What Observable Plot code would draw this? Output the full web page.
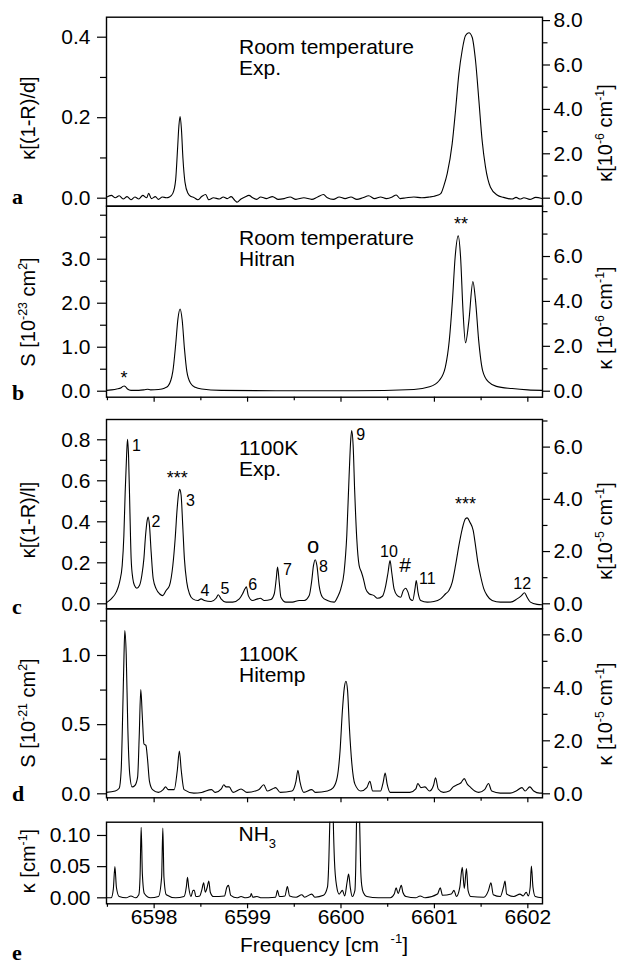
<!DOCTYPE html>
<html><head><meta charset="utf-8">
<script src="https://cdn.jsdelivr.net/npm/d3@7"></script>
<script src="https://cdn.jsdelivr.net/npm/@observablehq/plot@0.6"></script>
<style>
body{margin:0;background:#fff;}
#chart{position:relative;width:617px;height:964px;background:#fff;}
#chart svg{position:absolute;left:0;top:0;}
</style></head><body><div id="chart"></div>
<script>
// ---------- data (frequency in cm^-1, value in left-axis units) ----------
const xDomain = [6597.49, 6602.157];
const xMajor = [6598, 6599, 6600, 6601, 6602];
const xMinor = [6597.5, 6598.5, 6599.5, 6600.5, 6601.5];

const aSpectrum = [[6597.487,0.002],[6597.542,0.007],[6597.584,0.001],[6597.626,0.006],[6597.668,-0.002],[6597.710,0.004],[6597.752,-0.004],[6597.794,0.003],[6597.836,-0.002],[6597.878,0.007],[6597.920,0.001],[6597.941,0.012],[6597.971,-0.001],[6598.013,0.004],[6598.046,-0.003],[6598.088,0.003],[6598.130,0.001],
[6598.164,0.003],[6598.200,0.012],[6598.230,0.045],[6598.250,0.120],[6598.265,0.180],[6598.278,0.203],[6598.292,0.172],[6598.308,0.100],[6598.330,0.040],[6598.362,0.012],[6598.395,0.004],
[6598.425,0.002],[6598.467,-0.004],[6598.509,0.004],[6598.551,0.009],[6598.585,-0.004],[6598.635,0.001],[6598.698,-0.002],[6598.740,0.003],[6598.782,-0.001],[6598.824,0.004],[6598.866,-0.006],[6598.887,-0.010],[6598.930,-0.002],[6598.972,0.003],[6599.014,0.007],[6599.056,0.001],[6599.098,-0.003],[6599.140,0.003],[6599.203,-0.001],[6599.266,0.004],[6599.329,-0.003],[6599.392,-0.001],[6599.455,0.003],[6599.518,-0.003],[6599.603,0.001],[6599.687,-0.003],[6599.750,0.003],[6599.813,0.009],[6599.855,0.001],[6599.918,-0.003],[6599.981,0.003],[6600.044,-0.001],[6600.107,0.003],[6600.170,-0.003],[6600.233,0.001],[6600.297,0.006],[6600.360,-0.001],[6600.423,0.003],[6600.486,-0.001],[6600.549,0.003],[6600.591,0.008],[6600.633,-0.001],[6600.696,0.001],[6600.780,0.003],[6600.864,0.001],[6600.948,0.003],[6601.000,0.005],[6601.040,0.008],[6601.070,0.012],[6601.100,0.030],[6601.137,0.061],[6601.190,0.135],[6601.226,0.218],[6601.262,0.309],[6601.297,0.367],[6601.333,0.404],[6601.369,0.411],[6601.404,0.400],[6601.440,0.342],[6601.476,0.243],[6601.511,0.143],[6601.547,0.077],[6601.600,0.027],[6601.671,0.008],[6601.740,0.002],[6601.790,-0.001],[6601.832,-0.002],[6601.874,0.002],[6601.916,-0.002],[6601.958,0.001],[6602.021,-0.003],[6602.084,0.002],[6602.156,-0.001]];

const bSpectrum = [[6597.490,0.02],[6597.540,0.03],[6597.600,0.05],[6597.647,0.08],[6597.665,0.11],[6597.680,0.12],[6597.695,0.10],[6597.715,0.05],[6597.752,0.02],[6597.836,0.02],[6597.900,0.035],[6597.930,0.045],[6597.962,0.03],[6598.046,0.04],[6598.110,0.07],[6598.150,0.12],[6598.200,0.45],[6598.230,1.05],[6598.255,1.65],[6598.278,1.87],[6598.300,1.62],[6598.325,0.95],[6598.350,0.45],[6598.390,0.18],[6598.440,0.09],[6598.509,0.05],[6598.719,0.02],[6599.308,0.01],[6600.149,0.01],[6600.780,0.04],[6600.948,0.10],[6601.054,0.25],[6601.117,0.55],[6601.159,1.15],[6601.193,2.06],[6601.222,3.05],[6601.255,3.53],[6601.280,3.05],[6601.306,1.83],[6601.333,1.10],[6601.369,1.60],[6601.412,2.49],[6601.440,2.06],[6601.474,1.15],[6601.516,0.47],[6601.579,0.21],[6601.664,0.11],[6601.832,0.06],[6602.000,0.03],[6602.156,0.02]];

const cSpectrum = [[6597.498,0.008],[6597.541,0.024],[6597.594,0.057],[6597.630,0.106],[6597.658,0.187],[6597.676,0.333],[6597.690,0.545],[6597.705,0.723],[6597.715,0.802],[6597.726,0.723],[6597.740,0.463],[6597.754,0.219],[6597.772,0.122],[6597.790,0.089],[6597.815,0.076],[6597.843,0.089],[6597.868,0.138],[6597.890,0.219],[6597.908,0.333],[6597.925,0.406],[6597.936,0.423],[6597.950,0.382],[6597.968,0.252],[6597.990,0.122],[6598.022,0.073],[6598.057,0.049],[6598.093,0.040],[6598.128,0.065],[6598.164,0.089],[6598.200,0.187],[6598.225,0.317],[6598.246,0.463],[6598.264,0.545],[6598.274,0.558],[6598.289,0.528],[6598.306,0.382],[6598.324,0.219],[6598.349,0.106],[6598.378,0.049],[6598.413,0.024],[6598.467,0.016],[6598.502,0.024],[6598.538,0.016],[6598.609,0.011],[6598.663,0.027],[6598.687,0.044],[6598.716,0.024],[6598.769,0.008],[6598.841,0.008],[6598.912,0.024],[6598.947,0.049],[6598.972,0.073],[6598.987,0.083],[6599.008,0.040],[6599.054,0.016],[6599.108,0.024],[6599.136,0.027],[6599.179,0.016],[6599.250,0.021],[6599.286,0.049],[6599.307,0.122],[6599.321,0.179],[6599.339,0.106],[6599.357,0.032],[6599.410,0.008],[6599.481,0.008],[6599.553,0.016],[6599.606,0.016],[6599.660,0.040],[6599.685,0.106],[6599.706,0.187],[6599.724,0.215],[6599.742,0.187],[6599.766,0.089],[6599.802,0.032],
[6599.855,0.016],[6599.927,0.008],[6599.962,0.032],[6599.998,0.073],[6600.033,0.154],[6600.062,0.333],[6600.087,0.626],[6600.105,0.805],[6600.115,0.845],[6600.130,0.772],[6600.147,0.545],[6600.169,0.317],[6600.194,0.187],[6600.219,0.154],[6600.240,0.122],[6600.265,0.073],[6600.301,0.049],[6600.354,0.040],[6600.390,0.027],[6600.443,0.037],[6600.479,0.089],[6600.504,0.154],[6600.525,0.211],[6600.543,0.154],[6600.568,0.073],[6600.603,0.040],[6600.639,0.032],[6600.667,0.065],[6600.692,0.076],[6600.717,0.057],[6600.739,0.024],[6600.767,0.016],[6600.792,0.073],[6600.806,0.114],[6600.824,0.057],[6600.853,0.016],[6600.924,0.008],[6600.995,0.011],[6601.066,0.024],[6601.120,0.049],[6601.155,0.065],[6601.191,0.106],[6601.226,0.187],[6601.262,0.284],[6601.298,0.366],[6601.333,0.415],[6601.351,0.419],[6601.380,0.398],[6601.415,0.358],[6601.440,0.284],[6601.465,0.203],[6601.493,0.138],[6601.529,0.073],[6601.565,0.040],[6601.618,0.016],[6601.707,0.008],[6601.814,0.008],[6601.885,0.024],[6601.932,0.040],[6601.964,0.054],[6601.992,0.032],[6602.028,0.008],[6602.099,-0.003],[6602.155,-0.005]];

const dSpectrum = [[6597.487,0.010],[6597.584,0.020],[6597.626,0.040],[6597.647,0.17],[6597.664,0.60],[6597.676,0.96],[6597.686,1.18],[6597.701,1.01],[6597.718,0.48],[6597.739,0.14],[6597.764,0.05],[6597.794,0.06],[6597.823,0.12],[6597.840,0.41],[6597.857,0.754],[6597.874,0.55],[6597.891,0.36],[6597.912,0.35],[6597.928,0.26],[6597.950,0.09],[6597.983,0.03],[6598.046,0.01],[6598.097,0.03],[6598.122,0.05],[6598.151,0.03],[6598.215,0.03],[6598.248,0.17],[6598.270,0.31],[6598.290,0.17],[6598.320,0.03],[6598.425,0.005],[6598.509,0.01],[6598.614,0.03],[6598.656,0.01],[6598.719,0.035],[6598.745,0.065],[6598.770,0.05],[6598.803,0.05],[6598.845,0.01],[6598.930,0.035],[6598.993,0.01],[6599.119,0.03],[6599.173,0.065],[6599.211,0.02],[6599.266,0.035],[6599.300,0.045],[6599.350,0.01],[6599.476,0.02],[6599.518,0.09],[6599.539,0.17],[6599.560,0.09],[6599.602,0.01],[6599.687,0.03],[6599.729,0.01],[6599.855,0.02],[6599.918,0.045],[6599.960,0.12],[6599.990,0.31],[6600.015,0.60],[6600.036,0.77],[6600.053,0.814],[6600.070,0.75],[6600.090,0.48],[6600.116,0.22],[6600.149,0.07],[6600.212,0.02],[6600.276,0.045],[6600.309,0.09],[6600.339,0.02],[6600.423,0.02],[6600.452,0.085],[6600.473,0.15],[6600.494,0.07],[6600.528,0.01],[6600.612,0.01],[6600.738,0.01],[6600.801,0.035],[6600.822,0.075],[6600.856,0.045],[6600.898,0.05],[6600.948,0.02],[6600.990,0.06],[6601.012,0.115],[6601.041,0.035],[6601.096,0.01],[6601.159,0.02],[6601.201,0.05],[6601.243,0.065],[6601.285,0.08],[6601.319,0.11],[6601.352,0.07],[6601.390,0.045],[6601.432,0.02],[6601.474,0.01],[6601.537,0.03],[6601.579,0.075],[6601.613,0.02],[6601.705,0.005],[6601.811,0.005],[6601.874,0.02],[6601.937,0.045],[6601.970,0.02],[6602.021,0.05],[6602.063,0.02],[6602.126,0.005],[6602.156,0.005]];

const eSpectrum = [[6597.487,0.0],[6597.540,0.0],[6597.563,0.014],[6597.580,0.05],[6597.596,0.017],[6597.626,0.002],[6597.700,0.0],[6597.752,0.003],[6597.800,0.0],[6597.836,0.005],[6597.849,0.033],[6597.861,0.113],[6597.874,0.038],[6597.895,0.007],[6597.960,0.0],[6598.046,0.002],[6598.080,0.033],[6598.093,0.112],[6598.105,0.033],[6598.130,0.005],[6598.230,0.0],[6598.320,0.002],[6598.345,0.018],[6598.357,0.033],[6598.370,0.017],[6598.395,0.002],[6598.416,0.012],[6598.430,0.012],[6598.446,0.002],[6598.488,0.003],[6598.509,0.012],[6598.530,0.024],[6598.547,0.009],[6598.568,0.017],[6598.585,0.027],[6598.601,0.009],[6598.635,0.002],[6598.753,0.003],[6598.778,0.017],[6598.795,0.02],[6598.820,0.004],[6598.887,0.0],[6598.930,0.002],[6598.980,0.0],[6599.030,0.002],[6599.039,0.007],[6599.056,0.001],[6599.100,0.002],[6599.150,0.0],[6599.300,0.001],[6599.320,0.012],[6599.340,0.002],[6599.400,0.003],[6599.426,0.018],[6599.450,0.003],[6599.520,0.001],[6599.580,0.005],[6599.610,0.001],[6599.687,0.006],[6599.720,0.001],[6599.813,0.004],[6599.855,0.017],[6599.870,0.06],[6599.880,0.12],[6599.899,0.30],[6599.918,0.12],[6599.930,0.06],[6599.952,0.02],[6599.980,0.006],[6600.015,0.012],[6600.040,0.003],[6600.065,0.025],[6600.082,0.038],[6600.099,0.017],[6600.120,0.002],[6600.149,0.012],[6600.158,0.05],[6600.166,0.12],[6600.183,0.28],[6600.200,0.12],[6600.210,0.05],[6600.222,0.02],[6600.240,0.008],[6600.276,0.002],[6600.400,0.0],[6600.528,0.0],[6600.570,0.006],[6600.590,0.016],[6600.612,0.007],[6600.646,0.02],[6600.662,0.009],[6600.696,0.002],[6600.800,0.0],[6600.847,0.003],[6600.900,0.0],[6601.033,0.006],[6601.062,0.016],[6601.087,0.004],[6601.180,0.006],[6601.210,0.012],[6601.235,0.002],[6601.272,0.017],[6601.298,0.049],[6601.320,0.015],[6601.343,0.047],[6601.360,0.012],[6601.390,0.002],[6601.530,0.001],[6601.579,0.012],[6601.605,0.024],[6601.630,0.005],[6601.705,0.002],[6601.739,0.017],[6601.756,0.027],[6601.773,0.006],[6601.850,0.002],[6601.916,0.006],[6601.950,0.003],[6601.983,0.009],[6602.005,0.003],[6602.025,0.017],[6602.038,0.051],[6602.055,0.017],[6602.080,0.002],[6602.156,0.0]];

// panel annotations: [text, frequency, value]
const aNotes = [["Room temperature\nExp.",6598.908,0.395]];
const bNotes = [["Room temperature\nHitran",6598.908,3.661]];
const bMarks = [["*",6597.676,0.29],["**",6601.285,3.80]];
const cNotes = [["1100K\nExp.",6598.908,0.80]];
const cPeakLabels = [["1",6597.81,0.769],["2",6598.02,0.398],["3",6598.388,0.504],["4",6598.545,0.061],["5",6598.759,0.073],["6",6599.054,0.093],["7",6599.428,0.167],["8",6599.813,0.179],["9",6600.211,0.824],["10",6600.514,0.252],["11",6600.924,0.122],["12",6601.939,0.098]];
const cSymbols = [["o",6599.702,0.281,22],["#",6600.685,0.187,21],["***",6598.246,0.612,18],["***",6601.333,0.486,18]];
const dNotes = [["1100K\nHitemp",6598.908,1.068]];
const eNote = ["NH","3",6598.908,0.1016];

// axes
const aLeft = [0,0.2,0.4], aLeftMinor = [0.1,0.3], aRight = [0,2,4,6,8], aRightMinor = [1,3,5,7], aRightPerLeft = 18.13;
const bLeft = [0,1,2,3], bLeftMinor = [0.5,1.5,2.5,3.5,4], bRight = [0,2,4,6], bRightMinor = [1,3,5,7,8], bRightPerLeft = 1.96;
const cLeft = [0,0.2,0.4,0.6,0.8], cLeftMinor = [0.1,0.3,0.5,0.7], cRight = [0,2,4,6], cRightMinor = [1,3,5,7], cRightPerLeft = 7.85;
const dLeft = [0,0.5,1.0], dLeftMinor = [0.25,0.75,1.25], dRight = [0,2,4,6], dRightMinor = [1,3,5], dRightPerLeft = 5.22;
const eLeft = [0,0.05,0.10];

// ---------- drawing ----------
const W = 617, H = 964, ML = 106, MR = 75;
const FONT = '"Liberation Sans", Arial, Helvetica, sans-serif';
const chart = document.getElementById("chart");

function addText(svg, {x, y, rotate = 0, anchor = "middle", size = 20, family = FONT, weight = "normal", parts}) {
  const t = d3.select(svg).append("text")
    .attr("transform", `translate(${x},${y}) rotate(${rotate})`)
    .attr("text-anchor", anchor).attr("font-size", size)
    .attr("font-family", family).attr("font-weight", weight).attr("fill", "black")
    .style("white-space", "pre");
  let shift = 0;
  for (const [s, kind] of parts) {
    const target = kind === "sup" ? -size * 0.42 : kind === "sub" ? size * 0.3 : 0;
    t.append("tspan").attr("dy", target - shift)
      .attr("font-size", kind ? size * 0.62 : size).text(s);
    shift = target;
  }
}

function panel(cfg) {
  const marks = [
    Plot.line(cfg.data, {x: d => d[0], y: d => d[1], curve: "monotone-x", stroke: "black", strokeWidth: 1.1, clip: true}),
    Plot.frame({stroke: "black", strokeWidth: 1.4}),
    Plot.axisY({anchor: "left", ticks: cfg.left, tickSize: 9, tickPadding: 7, tickFormat: cfg.leftFmt, fontSize: 21, label: null, strokeWidth: 1.2}),
    Plot.axisY({anchor: "left", ticks: cfg.leftMinor, tickSize: 6, tickFormat: () => "", label: null, strokeWidth: 1.2})
  ];
  if (cfg.right) {
    const k = cfg.rightPerLeft;
    marks.push(
      Plot.axisY({anchor: "right", ticks: cfg.right.map(r => r / k), tickSize: 7, tickPadding: 4, tickFormat: d => (d * k).toFixed(1), fontSize: 21, label: null, strokeWidth: 1.2}),
      Plot.axisY({anchor: "right", ticks: cfg.rightMinor.map(r => r / k), tickSize: 4.5, tickFormat: () => "", label: null, strokeWidth: 1.2})
    );
  }
  if (cfg.xTicks) {
    marks.push(
      Plot.axisX({anchor: "bottom", ticks: xMajor, tickSize: 5, tickPadding: 0, tickFormat: cfg.xLabels ? (d => String(d)) : (() => ""), fontSize: 21, label: null, strokeWidth: 1.2}),
      Plot.axisX({anchor: "bottom", ticks: xMinor, tickSize: 3.5, tickFormat: () => "", label: null, strokeWidth: 1.2})
    );
  }
  if (cfg.notes) marks.push(Plot.text(cfg.notes, {x: d => d[1], y: d => d[2], text: d => d[0], textAnchor: "start", lineAnchor: "top", lineHeight: 1, fontSize: 21}));
  if (cfg.extra) marks.push(...cfg.extra);
  const svg = Plot.plot({
    width: W, height: H,
    marginLeft: ML, marginRight: MR, marginTop: cfg.top, marginBottom: H - cfg.bottom,
    x: {domain: xDomain, axis: null},
    y: {domain: cfg.yDomain, axis: null},
    style: {fontFamily: FONT, fontSize: "21px", background: "transparent", overflow: "visible", color: "black"},
    marks
  });
  chart.appendChild(svg);
  return svg;
}

const f1 = d => d.toFixed(1), f2 = d => d.toFixed(2);

const svgA = panel({data: aSpectrum, top: 16.7, bottom: 205.7, yDomain: [-0.0199, 0.4497],
  left: aLeft, leftMinor: aLeftMinor, leftFmt: f1, right: aRight, rightMinor: aRightMinor, rightPerLeft: aRightPerLeft, notes: aNotes});

const svgB = panel({data: bSpectrum, top: 205.7, bottom: 396.7, yDomain: [-0.136, 4.205],
  left: bLeft, leftMinor: bLeftMinor, leftFmt: f1, right: bRight, rightMinor: bRightMinor, rightPerLeft: bRightPerLeft, notes: bNotes, xTicks: true,
  extra: [Plot.text(bMarks, {x: d => d[1], y: d => d[2], text: d => d[0], textAnchor: "middle", lineAnchor: "middle", fontSize: 18})]});

const svgC = panel({data: cSpectrum, top: 419, bottom: 608.3, yDomain: [-0.0244, 0.899],
  left: cLeft, leftMinor: cLeftMinor, leftFmt: f1, right: cRight, rightMinor: cRightMinor, rightPerLeft: cRightPerLeft, notes: cNotes,
  extra: [
    Plot.text(cPeakLabels, {x: d => d[1], y: d => d[2], text: d => d[0], textAnchor: "middle", lineAnchor: "middle", fontSize: 16}),
    Plot.text(cSymbols, {x: d => d[1], y: d => d[2], text: d => d[0], textAnchor: "middle", lineAnchor: "middle", fontSize: d => d[3]})
  ]});

const svgD = panel({data: dSpectrum, top: 608.3, bottom: 797.3, yDomain: [-0.0289, 1.3377],
  left: dLeft, leftMinor: dLeftMinor, leftFmt: f1, right: dRight, rightMinor: dRightMinor, rightPerLeft: dRightPerLeft, notes: dNotes, xTicks: true});

const svgE = panel({data: eSpectrum, top: 821.7, bottom: 903.3, yDomain: [-0.0096, 0.1213],
  left: eLeft, leftMinor: [], leftFmt: f2, xTicks: true, xLabels: true});

// NH3 label placed through panel e's scales
{
  const sx = svgE.scale("x"), sy = svgE.scale("y");
  addText(svgE, {x: sx.apply(eNote[2]), y: sy.apply(eNote[3]) + 7.5, anchor: "start", size: 21, parts: [[eNote[0]], [eNote[1], "sub"]]});
}

// axis titles
addText(svgA, {x: 35, y: 118, rotate: -90, parts: [["κ[(1-R)/d]"]]});
addText(svgA, {x: 612, y: 133, rotate: -90, parts: [["κ[10"], ["-6", "sup"], [" cm"], ["-1", "sup"], ["]"]]});
addText(svgB, {x: 35, y: 312, rotate: -90, parts: [["S [10"], ["-23", "sup"], [" cm"], ["2", "sup"], ["]"]]});
addText(svgB, {x: 612, y: 318, rotate: -90, parts: [["κ [10"], ["-6", "sup"], [" cm"], ["-1", "sup"], ["]"]]});
addText(svgC, {x: 35, y: 520, rotate: -90, parts: [["κ[(1-R)/l]"]]});
addText(svgC, {x: 612, y: 531, rotate: -90, parts: [["κ[10"], ["-5", "sup"], [" cm"], ["-1", "sup"], ["]"]]});
addText(svgD, {x: 35, y: 713, rotate: -90, parts: [["S [10"], ["-21", "sup"], [" cm"], ["2", "sup"], ["]"]]});
addText(svgD, {x: 612, y: 714, rotate: -90, parts: [["κ [10"], ["-5", "sup"], [" cm"], ["-1", "sup"], ["]"]]});
addText(svgE, {x: 35, y: 861, rotate: -90, parts: [["κ [cm"], ["-1", "sup"], ["]"]]});
addText(svgE, {x: 240, y: 952, anchor: "start", size: 21, parts: [["Frequency [cm  "], ["-1", "sup"], ["]"]]});

// panel letters
const SERIF = '"Liberation Serif", "Times New Roman", serif';
[["a", svgA, 204], ["b", svgB, 400], ["c", svgC, 614], ["d", svgD, 801], ["e", svgE, 960]].forEach(([s, svg, y]) =>
  addText(svg, {x: 12, y, anchor: "start", size: 22, family: SERIF, weight: "bold", parts: [[s]]}));
</script>
</body></html>
